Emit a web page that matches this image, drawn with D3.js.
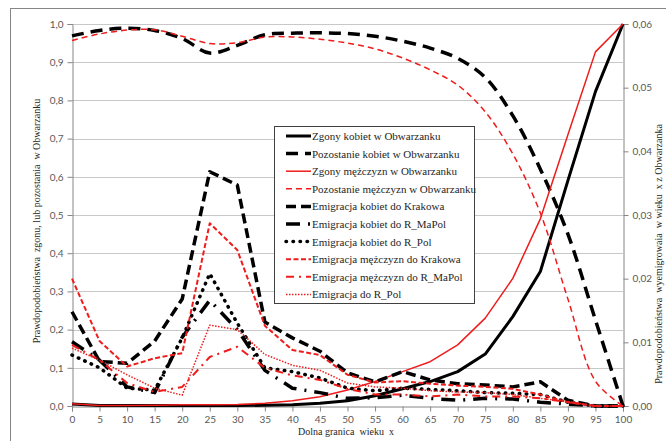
<!DOCTYPE html>
<html>
<head>
<meta charset="utf-8">
<script src="https://cdn.jsdelivr.net/npm/d3@7/dist/d3.min.js"></script>
<style>
  html, body { margin: 0; padding: 0; background: #fff; }
  svg { display: block; }
  .tick text { font-family: Lato, "Open Sans", sans-serif; font-size: 10px; fill: #595959; }
  .serif { font-family: "Liberation Serif", "DejaVu Serif", serif; fill: #262626; white-space: pre; }
</style>
</head>
<body>
<svg id="chart" width="666" height="441"></svg>
<script>
// Age groups (lower bound of the age interval)
const ages = [0, 5, 10, 15, 20, 25, 30, 35, 40, 45, 50, 55, 60, 65, 70, 75, 80, 85, 90, 95, 100];

// Left axis: probability of death / of staying in Obwarzanka
const zgonyKobiet = [0.005, 0.001, 0.001, 0.001, 0.001, 0.001, 0.001, 0.002, 0.003, 0.007, 0.014, 0.027, 0.045, 0.064, 0.09, 0.136, 0.234, 0.352, 0.59, 0.823, 1.0];
const pozostanieKobiet = [0.969, 0.983, 0.989, 0.983, 0.962, 0.924, 0.944, 0.972, 0.976, 0.977, 0.975, 0.968, 0.955, 0.937, 0.91, 0.86, 0.76, 0.62, 0.45, 0.225, 0.0];
const zgonyMezczyzn = [0.006, 0.001, 0.001, 0.002, 0.003, 0.003, 0.004, 0.007, 0.014, 0.024, 0.042, 0.064, 0.09, 0.116, 0.16, 0.23, 0.334, 0.49, 0.71, 0.927, 1.0];
const pozostanieMezczyzn = [0.957, 0.974, 0.984, 0.985, 0.968, 0.949, 0.951, 0.966, 0.966, 0.96, 0.95, 0.935, 0.911, 0.88, 0.84, 0.77, 0.66, 0.505, 0.28, 0.065, 0.0];

// Right axis: probability of emigrating at age x
const emKobietKrakow = [0.0148, 0.0070, 0.0067, 0.0102, 0.0168, 0.0368, 0.0347, 0.0132, 0.0107, 0.0086, 0.0052, 0.0038, 0.0054, 0.0041, 0.0035, 0.0033, 0.0030, 0.0038, 0.0009, 0.0, 0.0];
const emKobietMaPol = [0.0101, 0.0072, 0.0030, 0.0021, 0.0108, 0.0166, 0.0120, 0.0056, 0.0028, 0.0021, 0.0012, 0.0013, 0.0017, 0.0012, 0.0009, 0.0012, 0.0011, 0.0006, 0.0003, 0.0, 0.0];
const emKobietPol = [0.0080, 0.0060, 0.0028, 0.0025, 0.0107, 0.0208, 0.0130, 0.0060, 0.0054, 0.0044, 0.0028, 0.0024, 0.0028, 0.0026, 0.0024, 0.0021, 0.0020, 0.0018, 0.0006, 0.0, 0.0];
const emMezczyznKrakow = [0.0200, 0.0102, 0.0062, 0.0075, 0.0083, 0.0287, 0.0245, 0.0126, 0.0088, 0.0080, 0.0049, 0.0037, 0.0039, 0.0035, 0.0032, 0.0030, 0.0027, 0.0018, 0.0006, 0.0, 0.0];
const emMezczyznMaPol = [0.0096, 0.0072, 0.0036, 0.0022, 0.0030, 0.0077, 0.0093, 0.0060, 0.0048, 0.0041, 0.0027, 0.0018, 0.0018, 0.0015, 0.0018, 0.0015, 0.0015, 0.0012, 0.0006, 0.0, 0.0];
const emPol = [0.0091, 0.0072, 0.0049, 0.0028, 0.0017, 0.0127, 0.0120, 0.0081, 0.0064, 0.0056, 0.0036, 0.0030, 0.0028, 0.0024, 0.0022, 0.0021, 0.0018, 0.0012, 0.0007, 0.0, 0.0];

// Tick values
const leftTicks = [0, 0.1, 0.2, 0.3, 0.4, 0.5, 0.6, 0.7, 0.8, 0.9, 1.0];
const rightTicks = [0, 0.01, 0.02, 0.03, 0.04, 0.05, 0.06];

const RED = "#ee1c1c";
const BLACK = "#000000";

const series = [
  { name: "Zgony kobiet w Obwarzanku", values: zgonyKobiet, axis: "L", color: BLACK, width: 3, dash: null, smooth: false },
  { name: "Pozostanie kobiet w Obwarzanku", values: pozostanieKobiet, axis: "L", color: BLACK, width: 3.5, dash: "12,7", smooth: true },
  { name: "Zgony mężczyzn w Obwarzanku", values: zgonyMezczyzn, axis: "L", color: RED, width: 1.5, dash: null, smooth: false },
  { name: "Pozostanie mężczyzn w Obwarzanku", values: pozostanieMezczyzn, axis: "L", color: RED, width: 1.5, dash: "6,4", smooth: true },
  { name: "Emigracja kobiet do Krakowa", values: emKobietKrakow, axis: "R", color: BLACK, width: 3.5, dash: "10,5", smooth: false },
  { name: "Emigracja kobiet do R_MaPol", values: emKobietMaPol, axis: "R", color: BLACK, width: 3.5, dash: "14,8,2,8", smooth: false },
  { name: "Emigracja kobiet do R_Pol", values: emKobietPol, axis: "R", color: BLACK, width: 3.5, dash: "0.5,6.5", cap: "round", smooth: false },
  { name: "Emigracja mężczyzn do Krakowa", values: emMezczyznKrakow, axis: "R", color: RED, width: 2, dash: "5,2.5", smooth: false },
  { name: "Emigracja mężczyzn do R_MaPol", values: emMezczyznMaPol, axis: "R", color: RED, width: 2, dash: "8,5,2,5", smooth: false },
  { name: "Emigracja do R_Pol", values: emPol, axis: "R", color: RED, width: 1.5, dash: "1.5,1.5", smooth: false }
];

const svg = d3.select("#chart");

// Chart area frame
svg.append("rect")
  .attr("x", 10.5).attr("y", 8.5)
  .attr("width", 700).attr("height", 500)
  .attr("fill", "#fff").attr("stroke", "#868686").attr("stroke-width", 1);

const x = d3.scaleLinear().domain([0, 100]).range([72, 623]);
const yL = d3.scaleLinear().domain([0, 1]).range([406, 24]);
const yR = d3.scaleLinear().domain([0, 0.06]).range([406, 24]);

// Horizontal gridlines
svg.append("g")
  .selectAll("line")
  .data(leftTicks.filter(d => d > 0))
  .join("line")
  .attr("x1", x(0)).attr("x2", x(100))
  .attr("y1", d => Math.round(yL(d)) + 0.5)
  .attr("y2", d => Math.round(yL(d)) + 0.5)
  .attr("stroke", "#c8c8c8").attr("stroke-width", 1);

const fmt1 = d => d.toFixed(1).replace(".", ",");
const fmt2 = d => d.toFixed(2).replace(".", ",");

function styleAxis(g) {
  g.select(".domain").attr("stroke", "#868686");
  g.selectAll(".tick line").attr("stroke", "#868686");
}

// Left axis
svg.append("g")
  .attr("transform", "translate(72.5,0)")
  .call(d3.axisLeft(yL).tickValues(leftTicks).tickFormat(fmt1).tickSizeOuter(0).tickSize(5).tickPadding(4))
  .call(styleAxis);

// Right axis
svg.append("g")
  .attr("transform", "translate(623.5,0)")
  .call(d3.axisRight(yR).tickValues(rightTicks).tickFormat(fmt2).tickSizeOuter(0).tickSize(5).tickPadding(4))
  .call(styleAxis);

// Bottom axis
svg.append("g")
  .attr("transform", "translate(0,406.5)")
  .call(d3.axisBottom(x).tickValues(ages).tickFormat(d => String(d)).tickSizeOuter(0).tickSize(5).tickPadding(4))
  .call(styleAxis);

// Series lines
const linesG = svg.append("g");
series.forEach(s => {
  const yS = s.axis === "L" ? yL : yR;
  const line = d3.line()
    .x((d, i) => x(ages[i]))
    .y(d => yS(d))
    .curve(s.smooth ? d3.curveCatmullRom.alpha(0.5) : d3.curveLinear);
  linesG.append("path")
    .datum(s.values)
    .attr("d", line)
    .attr("fill", "none")
    .attr("stroke", s.color)
    .attr("stroke-width", s.width)
    .attr("stroke-dasharray", s.dash)
    .attr("stroke-linecap", s.cap || "butt")
    .attr("stroke-linejoin", "round");
});

// Legend
const lg = svg.append("g");
lg.append("rect")
  .attr("x", 274.5).attr("y", 126.5).attr("width", 200).attr("height", 177)
  .attr("fill", "#fff").attr("stroke", "#404040").attr("stroke-width", 1);
series.forEach((s, i) => {
  const yy = 136 + i * 17.6;
  lg.append("line")
    .attr("x1", 286).attr("x2", 311).attr("y1", yy).attr("y2", yy)
    .attr("stroke", s.color).attr("stroke-width", s.width)
    .attr("stroke-dasharray", s.dash)
    .attr("stroke-linecap", s.cap || "butt");
  lg.append("text")
    .attr("class", "serif")
    .attr("x", 312).attr("y", yy + 4)
    .attr("font-size", 11)
    .text(s.name);
});

// Axis titles
svg.append("text")
  .attr("class", "serif")
  .attr("transform", "translate(40,221) rotate(-90)")
  .attr("text-anchor", "middle")
  .attr("font-size", 10)
  .attr("fill", "#404040")
  .text("Prawdopodobieństwa  zgonu, lub pozostania  w Obwarzanku");

svg.append("text")
  .attr("class", "serif")
  .attr("transform", "translate(662,254) rotate(-90)")
  .attr("text-anchor", "middle")
  .attr("font-size", 10)
  .attr("fill", "#404040")
  .text("Prawdopodobieństwa  wyemigrowaia  w wieku  x z Obwarzanka");

svg.append("text")
  .attr("class", "serif")
  .attr("x", 346).attr("y", 435)
  .attr("text-anchor", "middle")
  .attr("font-size", 10)
  .attr("fill", "#262626")
  .text("Dolna granica  wieku  x");
</script>
</body>
</html>
